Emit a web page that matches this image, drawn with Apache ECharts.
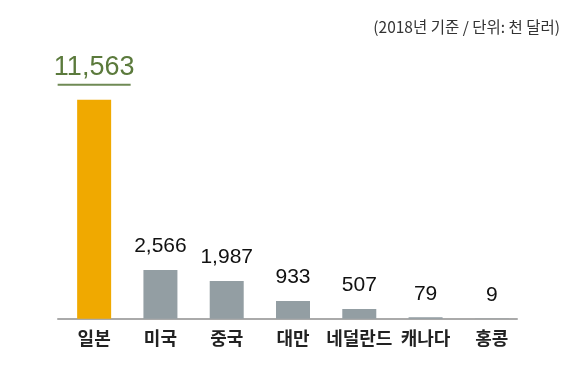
<!DOCTYPE html>
<html><head><meta charset="utf-8">
<script src="https://cdn.jsdelivr.net/npm/echarts@6/dist/echarts.min.js"></script>
<style>html,body{margin:0;padding:0;background:#fff}#c{width:586px;height:375px}</style>
</head><body><div id="c"></div>
<script>
const categories = ['일본', '미국', '중국', '대만', '네덜란드', '캐나다', '홍콩'];
const values = [11563, 2566, 1987, 933, 507, 79, 9];
const note = '(2018년 기준 / 단위: 천 달러)';

const chart = echarts.init(document.getElementById('c'), null, {renderer: 'canvas'});
const numFont = '"Liberation Sans Narrow", "Liberation Sans", Arial, sans-serif';
const fmt = v => v.toLocaleString('en-US');

chart.setOption({
  backgroundColor: '#fff',
  animation: false,
  title: {
    text: note, right: 21, top: 14,
    textStyle: {fontFamily: '"Noto Sans CJK KR", sans-serif', fontSize: 15.5, fontWeight: 'normal', color: '#333'}
  },
  grid: [
    {left: 61, width: 464, top: 53.5, bottom: 56.3},
    {left: 58, right: 69, top: 53.5, bottom: 56.3}
  ],
  xAxis: [
    {type: 'category', data: categories, gridIndex: 0,
     axisLine: {show: false}, axisTick: {show: false},
     axisLabel: {margin: 10, color: '#222', fontSize: 18, fontWeight: 'bold',
                 fontFamily: '"Noto Sans CJK KR", sans-serif', interval: 0}},
    {type: 'value', gridIndex: 1, min: 0, max: 1, show: true,
     axisLine: {show: true, lineStyle: {color: '#aaaaaa', width: 2}},
     axisTick: {show: false}, axisLabel: {show: false}, splitLine: {show: false}}
  ],
  yAxis: [
    {type: 'value', min: 0, max: 14000, gridIndex: 0, show: false},
    {type: 'value', min: 0, max: 1, gridIndex: 1, show: false}
  ],
  series: [{
    type: 'bar', xAxisIndex: 0, yAxisIndex: 0,
    data: values.map((v, i) => ({
      value: v,
      itemStyle: {color: i === 0 ? '#f0a900' : '#939ea3'},
      label: i === 0 ? {
        distance: 13,
        formatter: p => '{n|' + fmt(p.value) + '}\n{u|}',
        rich: {
          n: {fontFamily: numFont, fontSize: 27, color: '#5b7a3c', lineHeight: 30, align: 'center'},
          u: {backgroundColor: '#6f8a55', height: 2, width: 73, lineHeight: 4, align: 'center'}
        }
      } : {}
    })),
    barWidth: 34,
    label: {
      show: true, position: 'top', distance: 13,
      formatter: p => fmt(p.value),
      fontFamily: numFont, fontSize: 21, color: '#111'
    }
  }]
});
</script></body></html>
